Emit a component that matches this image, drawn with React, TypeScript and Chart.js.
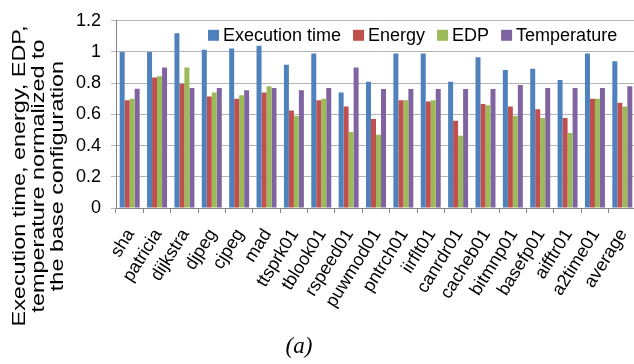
import React, { useEffect, useRef } from "react";
import { Chart, registerables } from "chart.js";
Chart.register(...registerables);

const categories = ["sha", "patricia", "dijkstra", "djpeg", "cjpeg", "mad", "ttsprk01", "tblook01", "rspeed01", "puwmod01", "pntrch01", "iirflt01", "canrdr01", "cacheb01", "bitmnp01", "basefp01", "aifftr01", "a2time01", "average"];
const executionTime = [1.0, 1.0, 1.12, 1.015, 1.023, 1.04, 0.918, 0.99, 0.74, 0.81, 0.99, 0.99, 0.81, 0.966, 0.885, 0.893, 0.82, 0.99, 0.94];
const energy = [0.69, 0.837, 0.796, 0.715, 0.70, 0.74, 0.625, 0.69, 0.65, 0.57, 0.69, 0.682, 0.56, 0.666, 0.65, 0.633, 0.577, 0.70, 0.674];
const edp = [0.70, 0.845, 0.90, 0.74, 0.723, 0.78, 0.59, 0.70, 0.487, 0.47, 0.69, 0.69, 0.463, 0.658, 0.59, 0.577, 0.48, 0.70, 0.65];
const temperature = [0.765, 0.90, 0.77, 0.77, 0.755, 0.77, 0.755, 0.77, 0.90, 0.763, 0.763, 0.763, 0.763, 0.763, 0.788, 0.77, 0.77, 0.77, 0.78];
const seriesNames = ["Execution time", "Energy", "EDP", "Temperature"];
const yTicks = [0, 0.2, 0.4, 0.6, 0.8, 1, 1.2];
const yTitleLines = ["Execution time, energy, EDP,", "temperature normalized to", "the base configuration"];
const caption = "(a)";

const colors = ["#4F81BD", "#C0504D", "#9BBB59", "#8064A2"];
const FONT = "'Liberation Sans', Arial, sans-serif";

const decorPlugin = {
  id: "decor",
  afterDraw(chart: any) {
    const ctx = chart.ctx;
    const area = chart.chartArea;
    const xs = chart.scales.x;

    // x tick labels (rotated)
    ctx.save();
    ctx.font = `18px ${FONT}`;
    ctx.fillStyle = "#000";
    ctx.textAlign = "right";
    ctx.textBaseline = "middle";
    const ang = (-58 * Math.PI) / 180;
    (chart.data.labels as string[]).forEach((lab: string, i: number) => {
      const px = xs.getPixelForTick(i);
      ctx.save();
      ctx.translate(px + 1, area.bottom + 23);
      ctx.rotate(ang);
      ctx.fillText(lab, 0, 0);
      ctx.restore();
    });
    ctx.restore();

    // legend
    ctx.save();
    ctx.font = `18px ${FONT}`;
    ctx.textBaseline = "middle";
    ctx.textAlign = "left";
    let x = area.left + 92;
    const y = area.top + 14;
    chart.data.datasets.forEach((ds: any) => {
      ctx.fillStyle = ds.backgroundColor;
      ctx.fillRect(x, y - 5, 11, 11);
      x += 15;
      ctx.fillStyle = "#000";
      ctx.fillText(ds.label, x, y + 1);
      x += ctx.measureText(ds.label).width + 12;
    });
    ctx.restore();

    // y title
    ctx.save();
    ctx.translate(39, 176);
    ctx.rotate(-Math.PI / 2);
    ctx.scale(1.3, 1);
    ctx.font = `18px ${FONT}`;
    ctx.fillStyle = "#000";
    ctx.textAlign = "center";
    ctx.textBaseline = "middle";
    yTitleLines.forEach((l, i) => ctx.fillText(l, 0, (i - 1) * 19));
    ctx.restore();

    // caption
    ctx.save();
    ctx.font = `italic 23px 'Liberation Serif', 'Times New Roman', serif`;
    ctx.fillStyle = "#000";
    ctx.textAlign = "center";
    ctx.textBaseline = "middle";
    ctx.fillText(caption, 299, 347);
    ctx.restore();
  },
};

export default function App() {
  const ref = useRef<HTMLCanvasElement>(null);
  useEffect(() => {
    if (!ref.current) return;
    const series = [executionTime, energy, edp, temperature];
    const chart = new Chart(ref.current, {
      type: "bar",
      data: {
        labels: categories,
        datasets: series.map((d, i) => ({
          label: seriesNames[i],
          data: d,
          backgroundColor: colors[i],
          borderWidth: 0,
          categoryPercentage: 0.73,
          barPercentage: 1.0,
        })),
      },
      options: {
        responsive: false,
        maintainAspectRatio: false,
        devicePixelRatio: 1,
        animation: false,
        layout: { padding: { top: 14, right: 14, left: 0, bottom: 0 } },
        plugins: { legend: { display: false }, tooltip: { enabled: false } },
        scales: {
          x: {
            offset: true,
            grid: { display: true, drawOnChartArea: false, drawTicks: true, tickLength: 5, offset: true, color: "#868686" },
            border: { color: "#868686" },
            ticks: { display: false, autoSkip: false },
            afterFit: (s: any) => { s.height = 156; },
          },
          y: {
            min: 0,
            max: 1.2,
            afterBuildTicks: (s: any) => { s.ticks = yTicks.map((v) => ({ value: v })); },
            grid: { color: "#b4b4b4", tickLength: 5, drawTicks: true },
            border: { color: "#868686" },
            ticks: {
              color: "#000",
              font: { size: 18, family: FONT },
              padding: 10,
              callback: (v: any) => String(Math.round(Number(v) * 10) / 10),
            },
            afterFit: (s: any) => { s.width = 116; },
          },
        },
      },
      plugins: [decorPlugin],
    });
    return () => chart.destroy();
  }, []);
  return (
    <div style={{ position: "fixed", left: 0, top: 0, width: 634, height: 364, overflow: "hidden", background: "#fff" }}>
      <canvas ref={ref} width={650} height={364} style={{ display: "block", width: 650, height: 364 }} />
    </div>
  );
}
